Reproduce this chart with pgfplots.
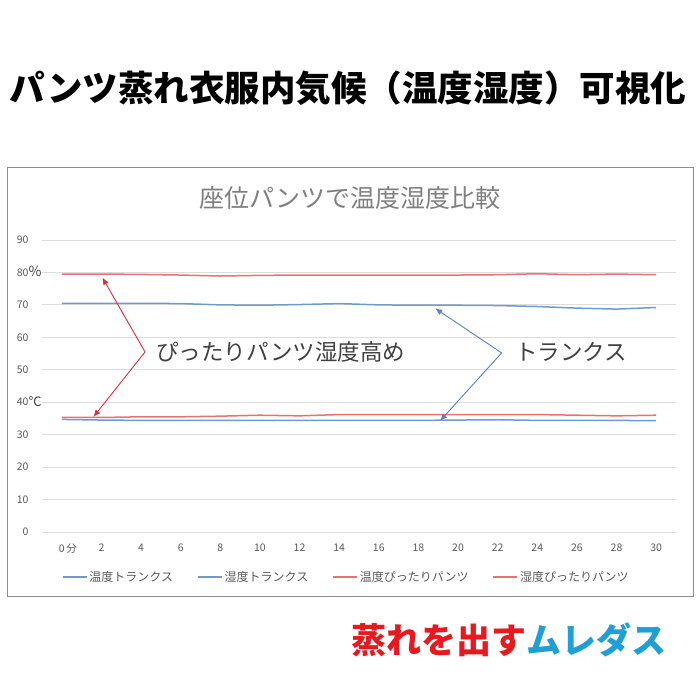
\documentclass[border=0pt]{standalone}
\usepackage{fontspec}
\setmainfont{Noto Sans CJK JP}
\usepackage{pgfplots}
\pgfplotsset{compat=1.18}
\usetikzlibrary{arrows.meta}

\definecolor{blueline}{HTML}{6E9CC6}
\definecolor{redline}{HTML}{E57373}
\definecolor{gridgray}{HTML}{DDDDDD}
\definecolor{tickgray}{HTML}{595959}
\definecolor{titlegray}{HTML}{7F7F7F}
\definecolor{notegray}{HTML}{404040}
\definecolor{arrowred}{HTML}{D9303A}
\definecolor{arrowblue}{HTML}{5B7FC0}
\definecolor{logored}{HTML}{E8191E}
\definecolor{logocyan}{HTML}{1E9FD6}
\definecolor{framegray}{HTML}{8C8C8C}

\begin{document}
\begin{tikzpicture}
\path[use as bounding box] (0,0) rectangle (700bp,700bp);

% main title
\node[font=\fontsize{35.5bp}{38bp}\selectfont\bfseries, text=black] at (348bp,612bp)
  {パンツ蒸れ衣服内気候（温度湿度）可視化};

% chart frame
\draw[framegray, line width=1bp] (7bp,103bp) rectangle (693bp,532bp);

% chart title
\node[font=\fontsize{25bp}{27bp}\selectfont, text=titlegray] at (350bp,502bp)
  {座位パンツで温度湿度比較};

\begin{axis}[
  at={(42bp,168bp)}, anchor=south west,
  width=634bp, height=292bp, scale only axis,
  xmin=-1, xmax=31, ymin=0, ymax=90,
  axis line style={draw=none},
  tick style={draw=none},
  ytick={0,10,...,90},
  xtick={0,2,...,30},
  xticklabels={0\rlap{\,分},2,4,6,8,10,12,14,16,18,20,22,24,26,28,30},
  ymajorgrids,
  grid style={gridgray, line width=0.8bp},
  /pgf/number format/assume math mode=true,
  tick label style={font=\fontsize{10.5bp}{12bp}\selectfont, text=tickgray},
  xticklabel style={yshift=-8bp},
  yticklabel style={xshift=-10bp},
  clip=false,
  legend columns=4,
  legend style={at={(0.48,-0.154)}, anchor=center, draw=none, fill=none,
    font=\fontsize{12bp}{14bp}\selectfont, text=tickgray,
    /tikz/every even column/.append style={column sep=22bp}},
  legend image code/.code={\draw[#1, line width=1.6bp] (0bp,0bp) -- (24bp,0bp);},
]
\addplot[blueline, line width=1.5bp] coordinates {
  (0,34.7) (2,34.5) (4,34.4) (6,34.4) (8,34.4) (10,34.4) (12,34.4) (14,34.4)
  (16,34.4) (18,34.4) (20,34.5) (22,34.6) (24,34.4) (26,34.4) (28,34.4) (30,34.3)};
\addlegendentry{温度トランクス}
\addplot[blueline, line width=1.5bp] coordinates {
  (0,70.5) (2,70.5) (4,70.5) (6,70.4) (8,70.0) (10,69.9) (12,70.1) (14,70.4)
  (16,70.0) (18,69.9) (20,69.9) (22,69.8) (24,69.5) (26,69.0) (28,68.7) (30,69.2)};
\addlegendentry{湿度トランクス}
\addplot[redline, line width=1.5bp] coordinates {
  (0,35.3) (2,35.3) (4,35.5) (6,35.5) (8,35.7) (10,36.0) (12,35.8) (14,36.2)
  (16,36.2) (18,36.2) (20,36.2) (22,36.2) (24,36.2) (26,36.0) (28,35.8) (30,36.0)};
\addlegendentry{温度ぴったりパンツ}
\addplot[redline, line width=1.5bp] coordinates {
  (0,79.5) (2,79.5) (4,79.4) (6,79.2) (8,78.9) (10,79.1) (12,79.2) (14,79.2)
  (16,79.2) (18,79.2) (20,79.2) (22,79.3) (24,79.6) (26,79.3) (28,79.5) (30,79.3)};
\addlegendentry{湿度ぴったりパンツ}

% annotations
\draw[arrowred, line width=0.9bp, -{Latex[length=7bp,width=6bp]}]
  (axis cs:4.2,55.5) -- (axis cs:2.05,78.4);
\draw[arrowred, line width=0.9bp, -{Latex[length=7bp,width=6bp]}]
  (axis cs:4.2,55.5) -- (axis cs:1.6,35.5);
\node[anchor=west, font=\fontsize{22.5bp}{25bp}\selectfont, text=notegray]
  at (axis cs:4.6,55.5) {ぴったりパンツ湿度高め};
\draw[arrowblue, line width=0.9bp, -{Latex[length=7bp,width=6bp]}]
  (axis cs:22.2,55.2) -- (axis cs:18.85,68.9);
\draw[arrowblue, line width=0.9bp, -{Latex[length=7bp,width=6bp]}]
  (axis cs:22.2,55.2) -- (axis cs:19.1,34.3);
\node[anchor=west, font=\fontsize{22.5bp}{25bp}\selectfont, text=notegray]
  at (axis cs:22.7,55.5) {トランクス};
\end{axis}

% unit marks beside the y tick labels
\node[font=\fontsize{14bp}{16bp}\selectfont, text=notegray] at (35bp,429bp) {\%};
\node[font=\fontsize{13bp}{15bp}\selectfont, text=notegray] at (35bp,298bp) {℃};

% bottom slogan
\node[anchor=east, font=\fontsize{35bp}{38bp}\selectfont\bfseries] at (670bp,60bp)
  {\textcolor{logored}{蒸れを出す}\textcolor{logocyan}{ムレダス}};
\end{tikzpicture}
\end{document}
